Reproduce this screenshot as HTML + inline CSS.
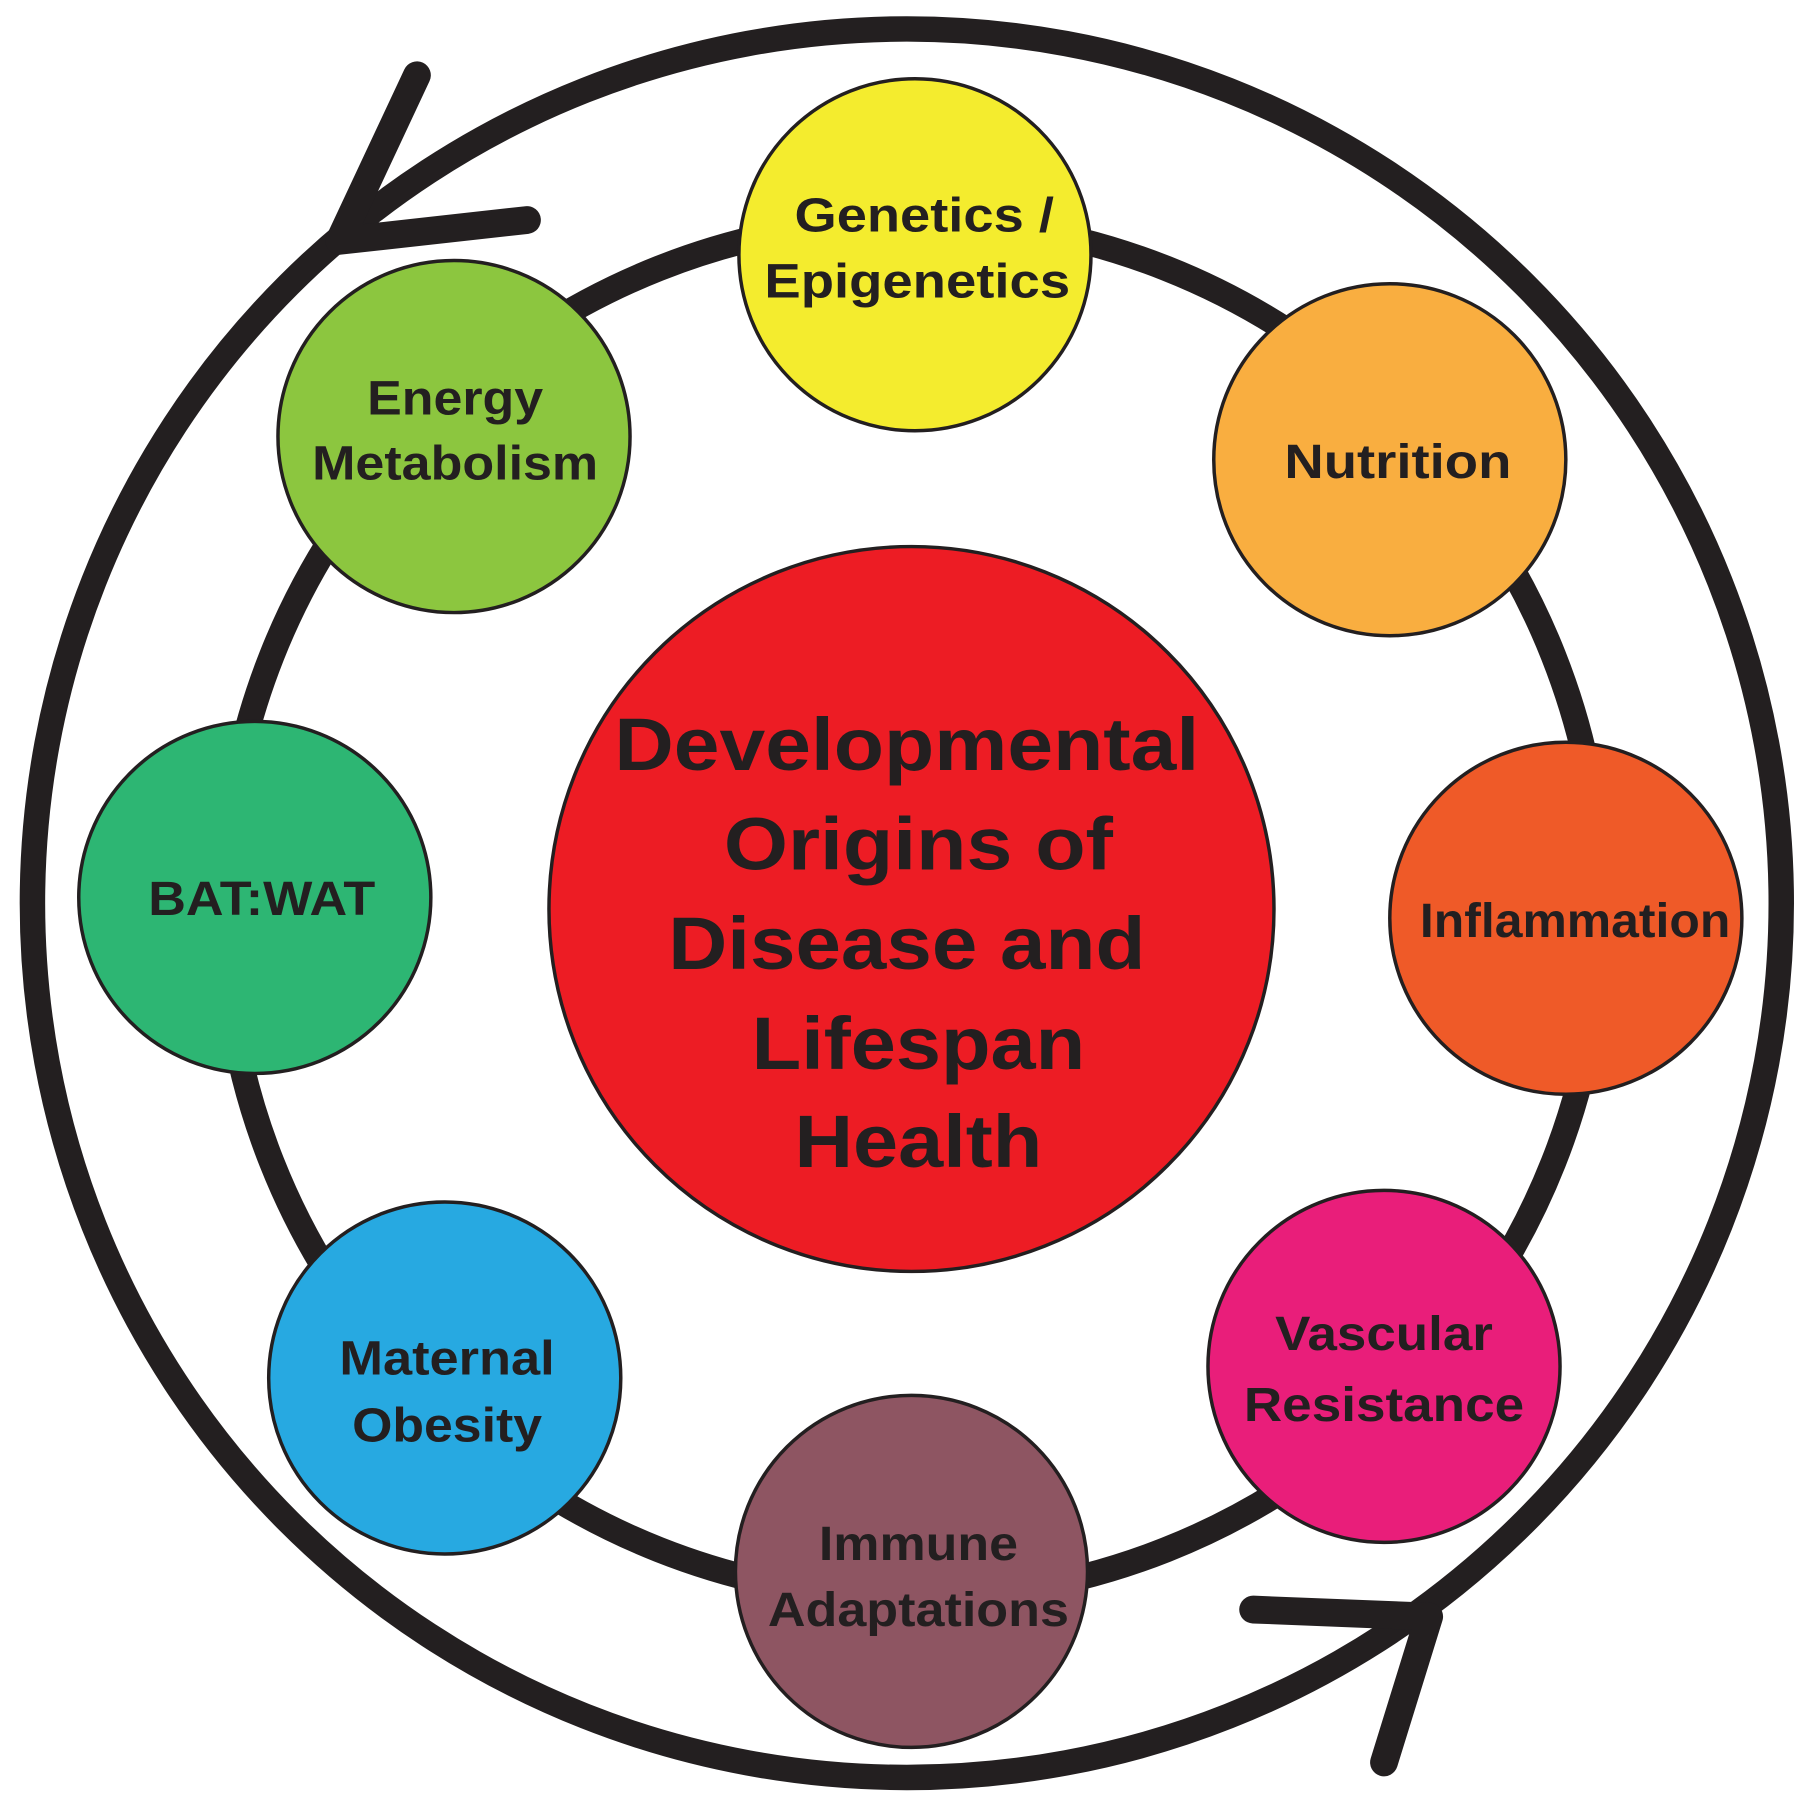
<!DOCTYPE html>
<html><head><meta charset="utf-8"><style>
html,body{margin:0;padding:0;background:#fff;}
svg{display:block}
text{font-family:"Liberation Sans",Arial,sans-serif;font-weight:bold;fill:#231f20;text-anchor:middle;}
</style></head><body>
<svg width="1816" height="1796" viewBox="0 0 1568 1551" preserveAspectRatio="none" xmlns="http://www.w3.org/2000/svg">
<rect width="1568" height="1551" fill="#fff"/>
<circle cx="783" cy="780" r="755" fill="none" stroke="#231f20" stroke-width="22"/>
<circle cx="788" cy="785" r="595" fill="none" stroke="#231f20" stroke-width="22"/>
<g fill="none" stroke="#231f20" stroke-width="24" stroke-linecap="round" stroke-linejoin="round">
<path d="M360 65 L293 208 L455 190"/>
<path d="M1082 1390 L1234 1396 L1195 1522"/>
</g>
<g stroke="#231f20" stroke-width="3">
<circle cx="787" cy="785" r="313" fill="#ed1c24"/>
<circle cx="790" cy="220" r="152" fill="#f4ec2e"/>
<circle cx="1200" cy="397" r="152" fill="#f9ae40"/>
<circle cx="1352" cy="793" r="152" fill="#ef5a28"/>
<circle cx="1195" cy="1180" r="152" fill="#e91e7a"/>
<circle cx="787" cy="1357" r="152" fill="#8e5562"/>
<circle cx="384" cy="1190" r="152" fill="#27a9e1"/>
<circle cx="220" cy="775" r="152" fill="#2db673"/>
<circle cx="392" cy="377" r="152" fill="#8cc63f"/>
</g>
<g font-size="42" lengthAdjust="spacingAndGlyphs">
<text x="798" y="200" textLength="224" lengthAdjust="spacingAndGlyphs">Genetics /</text>
<text x="792" y="257" textLength="264" lengthAdjust="spacingAndGlyphs">Epigenetics</text>
<text x="1207" y="413" textLength="196" lengthAdjust="spacingAndGlyphs">Nutrition</text>
<text x="1360" y="809" textLength="268" lengthAdjust="spacingAndGlyphs">Inflammation</text>
<text x="1195" y="1166" textLength="188" lengthAdjust="spacingAndGlyphs">Vascular</text>
<text x="1195" y="1227" textLength="242" lengthAdjust="spacingAndGlyphs">Resistance</text>
<text x="793" y="1347" textLength="172" lengthAdjust="spacingAndGlyphs">Immune</text>
<text x="793" y="1404" textLength="260" lengthAdjust="spacingAndGlyphs">Adaptations</text>
<text x="386" y="1187" textLength="186" lengthAdjust="spacingAndGlyphs">Maternal</text>
<text x="386" y="1245" textLength="164" lengthAdjust="spacingAndGlyphs">Obesity</text>
<text x="226" y="790" textLength="196" lengthAdjust="spacingAndGlyphs">BAT:WAT</text>
<text x="393" y="358" textLength="152" lengthAdjust="spacingAndGlyphs">Energy</text>
<text x="393" y="414" textLength="247" lengthAdjust="spacingAndGlyphs">Metabolism</text>
</g>
<g font-size="64">
<text x="783" y="665" textLength="505" lengthAdjust="spacingAndGlyphs">Developmental</text>
<text x="793" y="751" textLength="336" lengthAdjust="spacingAndGlyphs">Origins of</text>
<text x="783" y="837" textLength="412" lengthAdjust="spacingAndGlyphs">Disease and</text>
<text x="793" y="923" textLength="288" lengthAdjust="spacingAndGlyphs">Lifespan</text>
<text x="793" y="1008" textLength="214" lengthAdjust="spacingAndGlyphs">Health</text>
</g>
</svg>
</body></html>
